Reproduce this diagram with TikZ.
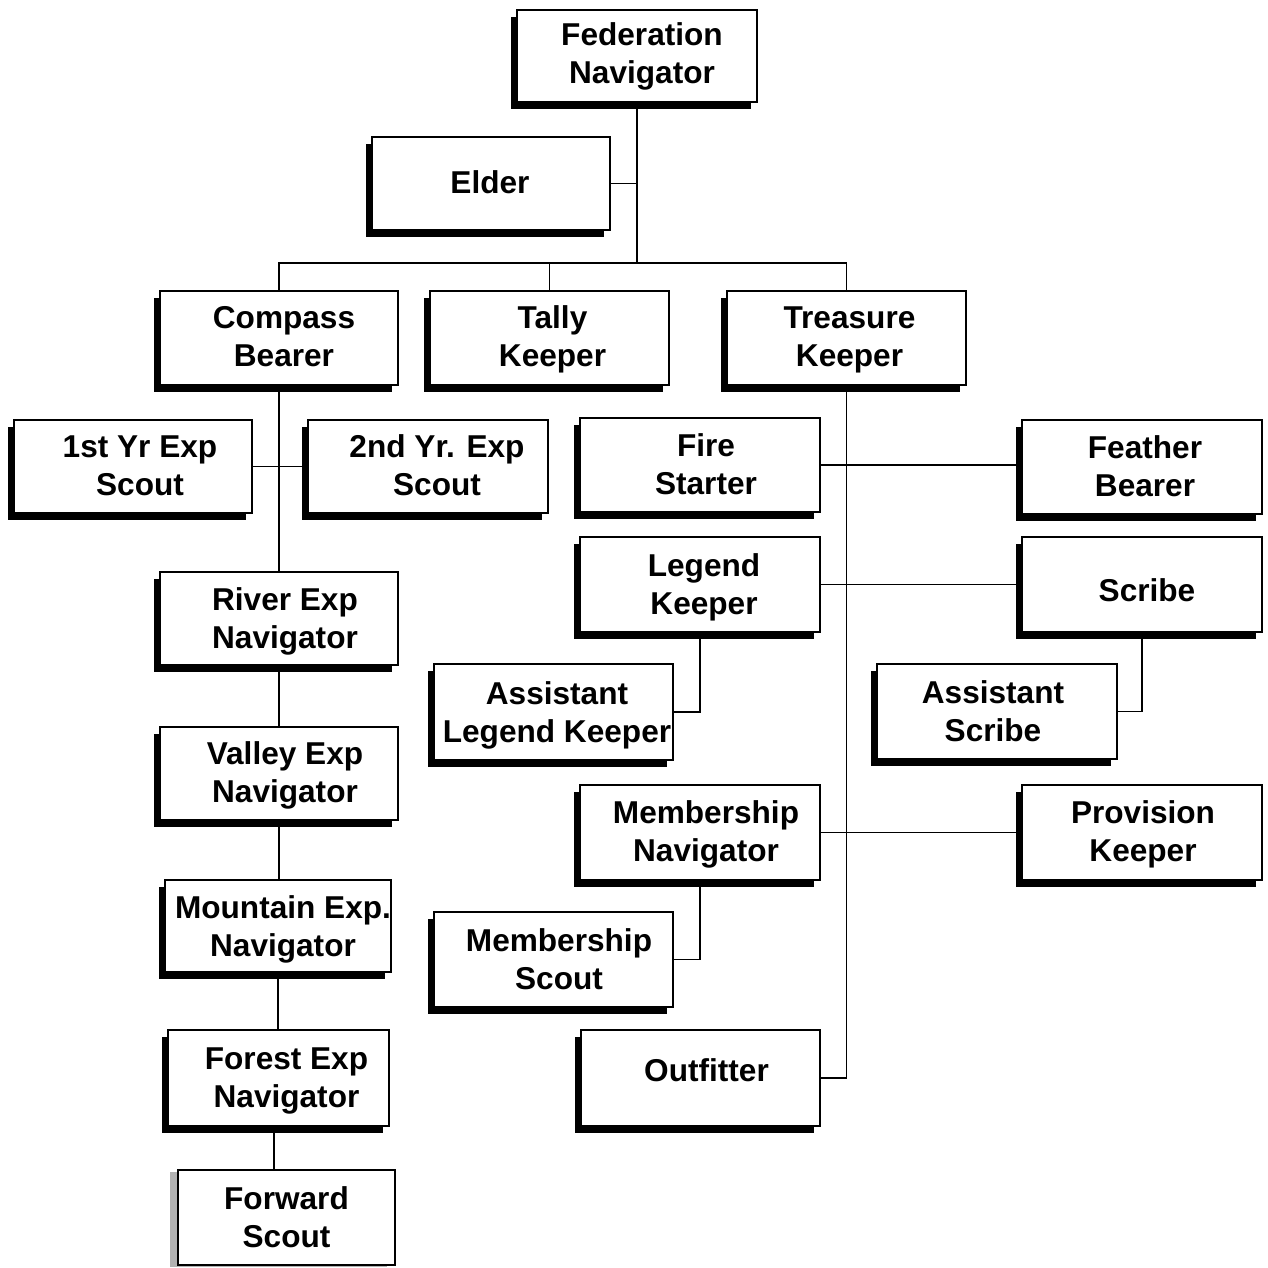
\documentclass[tikz,border=0pt]{standalone}
\usepackage{fontspec}
\setmainfont{Liberation Sans}
\usetikzlibrary{shadows,calc}
\begin{document}
\begin{tikzpicture}[x=1pt,y=-1pt,
  box/.style={draw=black, line width=1.5pt, fill=white, inner sep=0pt,
    drop shadow={shadow xshift=-6pt, shadow yshift=-7pt, opacity=1, fill=black}},
  greybox/.style={draw=black, line width=1.5pt, fill=white, inner sep=0pt,
    drop shadow={shadow xshift=-8pt, shadow yshift=-2pt, opacity=1, fill=gray!60}},
  label text/.style={align=center, inner sep=0pt, font=\fontsize{31.6}{38}\selectfont\bfseries},
  link/.style={line width=1.8pt}]
\useasboundingbox (0,0) rectangle (1267,1268);
% #1 style, #2 name, #3 centre, #4 width, #5 height, #6 text offset, #7 text
\newcommand\bx[7][box]{%
  \node[#1, minimum width=#4pt, minimum height=#5pt] (#2) at (#3) {};
  \node[label text] (#2-t) at ($(#2.center)+(#6)$) {#7};}
\bx{fed}{637,56}{240}{92}{5,0}{Federation\\Navigator}
\bx{elder}{491,183.5}{238}{93}{-1,-1}{Elder}
\bx{compass}{279,338}{238}{94}{5,-1}{Compass\\Bearer}
\bx{tally}{549.5,338}{239}{94}{3,1}{Tally\\Keeper}
\bx{treasure}{846.5,338}{239}{94}{3,2}{Treasure\\Keeper}
\bx{yrone}{133,466.5}{238}{93}{7,-1}{1st Yr Exp\\Scout}
\bx{yrtwo}{428,466.5}{240}{93}{9,-1}{2nd Yr. Exp\\Scout}
\bx{fire}{700,465}{240}{94}{6,-1}{Fire\\Starter}
\bx{feather}{1142,467}{240}{94}{3,-1}{Feather\\Bearer}
\bx{legend}{700,584.5}{240}{95}{4,3}{Legend\\Keeper}
\bx{scribe}{1142,584.5}{240}{95}{5,6}{Scribe}
\bx{river}{279,618.5}{238}{93}{6,3}{River Exp\\Navigator}
\bx{alk}{553.5,712}{239}{96}{3.5,3}{Assistant\\Legend Keeper}
\bx{ascribe}{997,711.5}{240}{95}{-4,0}{Assistant\\Scribe}
\bx{valley}{279,773.5}{238}{93}{6,2}{Valley Exp\\Navigator}
\bx{memnav}{700,832.5}{240}{95}{6,2}{Membership\\Navigator}
\bx{provision}{1142,832.5}{240}{95}{1,2}{Provision\\Keeper}
\bx{mountain}{278,926}{226}{92}{5,3}{Mountain Exp.\\Navigator}
\bx{memscout}{553.5,959.5}{239}{95}{5.5,0}{Membership\\Scout}
\bx{forest}{278.5,1078}{221}{96}{8,3}{Forest Exp\\Navigator}
\bx{outfit}{700.5,1078}{239}{96}{6,-8}{Outfitter}
\bx[greybox]{forward}{286.5,1217.5}{217}{95}{0,0}{Forward\\Scout}
\coordinate (j1) at (637,263);
\coordinate (fx) at (274,0);
\draw[link] (fed.south) -- (j1);
\draw[link] (elder.east) -- (elder.east -| fed.south);
\draw[link] (compass.north) |- (treasure.north |- j1) -- (treasure.north);
\draw[link] (tally.north) -- (tally.north |- j1);
\draw[link] (compass.south) -- (river.north);
\draw[link] (yrone.east) -- (yrtwo.west);
\draw[link] (river.south) -- (valley.north);
\draw[link] (valley.south) -- (valley.south |- mountain.north);
\draw[link] (mountain.south) -- (mountain.south |- forest.north);
\draw[link] (forest.south -| fx) -- (forward.north -| fx);
\draw[link] (treasure.south) |- (outfit.east);
\draw[link] (fire.east) -- (fire.east -| feather.west);
\draw[link] (legend.east) -- (legend.east -| scribe.west);
\draw[link] (legend.south) |- (alk.east);
\draw[link] (scribe.south) |- (ascribe.east);
\draw[link] (memnav.east) -- (memnav.east -| provision.west);
\draw[link] (memnav.south) |- (memscout.east);
\end{tikzpicture}
\end{document}
